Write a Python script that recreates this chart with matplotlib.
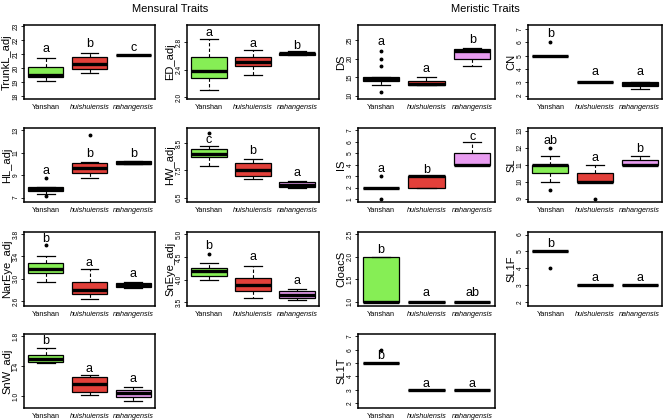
import matplotlib
matplotlib.use('Agg')
import matplotlib.pyplot as plt

plt.rcParams['font.family'] = ['Liberation Sans', 'DejaVu Sans']

groups = ['Yanshan', 'huishuiensis', 'nahangensis']
fills = ['#86EE55', '#E2403A', '#E89CF0']

# each stats row: [whislo, q1, median, q3, whishi]
trunkl_stats = [[19.07, 19.36, 19.5, 20.1, 20.74], [19.67, 19.95, 20.3, 20.8, 21.1], [20.95, 20.95, 20.96, 20.97, 20.97]]
trunkl_fliers = [[], [], []]
trunkl_letters = ['a', 'b', 'c']
trunkl_letter_y = [21.35, 21.75, 21.45]

ed_stats = [[2.10, 2.28, 2.38, 2.58, 2.84], [2.32, 2.46, 2.51, 2.58, 2.68], [2.61, 2.62, 2.64, 2.65, 2.67]]
ed_fliers = [[], [], []]
ed_letters = ['a', 'a', 'b']
ed_letter_y = [2.93, 2.77, 2.75]

ds_stats = [[13, 14, 14.5, 15, 15], [13, 13, 13.2, 14, 15], [18, 20, 22, 22.5, 23]]
ds_fliers = [[18, 20, 22, 11], [], []]
ds_letters = ['a', 'a', 'b']
ds_letter_y = [24.4, 17.2, 25]

cn_stats = [[5, 5, 5, 5, 5], [3, 3, 3, 3, 3], [2.5, 2.75, 2.9, 3.0, 3.0]]
cn_fliers = [[6], [], []]
cn_letters = ['b', 'a', 'a']
cn_letter_y = [6.6, 3.75, 3.75]

hl_stats = [[7.35, 7.6, 7.75, 7.95, 7.95], [8.7, 9.2, 9.65, 10.1, 10.15], [9.95, 9.95, 10.1, 10.25, 10.25]]
hl_fliers = [[8.7, 7.15], [12.6], []]
hl_letters = ['a', 'b', 'b']
hl_letter_y = [9.35, 10.85, 10.85]

hw_stats = [[7.67, 7.98, 8.08, 8.27, 8.38], [7.18, 7.3, 7.52, 7.76, 7.9], [6.85, 6.9, 6.98, 7.06, 7.1]]
hw_fliers = [[8.88], [], []]
hw_letters = ['c', 'b', 'a']
hw_letter_y = [8.6, 8.2, 7.39]

is_stats = [[2, 2, 2, 2, 2], [2, 2, 3, 3, 3], [4, 4, 4, 5, 6]]
is_fliers = [[3, 1], [], []]
is_letters = ['a', 'b', 'c']
is_letter_y = [3.6, 3.55, 6.45]

sl_stats = [[10, 10.5, 11, 11, 11.5], [10, 10, 10, 10.5, 11], [11, 11, 11, 11.25, 11.5]]
sl_fliers = [[12, 9.5], [9], []]
sl_letters = ['ab', 'a', 'b']
sl_letter_y = [12.4, 11.4, 11.9]

nareye_stats = [[2.95, 3.1, 3.18, 3.28, 3.4], [2.63, 2.72, 2.8, 2.95, 3.17], [2.84, 2.85, 2.89, 2.93, 2.95]]
nareye_fliers = [[3.61], [], []]
nareye_letters = ['b', 'a', 'a']
nareye_letter_y = [3.72, 3.29, 3.08]

sneye_stats = [[4.0, 4.07, 4.19, 4.25, 4.37], [3.6, 3.76, 3.89, 4.03, 4.3], [3.55, 3.6, 3.66, 3.74, 3.79]]
sneye_fliers = [[4.57], [], []]
sneye_letters = ['b', 'a', 'a']
sneye_letter_y = [4.75, 4.5, 3.98]

cloacs_stats = [[1, 1, 1, 2, 2], [1, 1, 1, 1, 1], [1, 1, 1, 1, 1]]
cloacs_fliers = [[], [], []]
cloacs_letters = ['b', 'a', 'ab']
cloacs_letter_y = [2.15, 1.2, 1.2]

sl1f_stats = [[5, 5, 5, 5, 5], [3, 3, 3, 3, 3], [3, 3, 3, 3, 3]]
sl1f_fliers = [[4], [], []]
sl1f_letters = ['b', 'a', 'a']
sl1f_letter_y = [5.45, 3.4, 3.4]

snw_stats = [[1.44, 1.46, 1.5, 1.55, 1.64], [1.01, 1.06, 1.16, 1.25, 1.28], [0.93, 0.99, 1.04, 1.08, 1.12]]
snw_fliers = [[], [], []]
snw_letters = ['b', 'a', 'a']
snw_letter_y = [1.73, 1.36, 1.23]

sl1t_stats = [[5, 5, 5, 5, 5], [3, 3, 3, 3, 3], [3, 3, 3, 3, 3]]
sl1t_fliers = [[6], [], []]
sl1t_letters = ['b', 'a', 'a']
sl1t_letter_y = [5.55, 3.45, 3.45]

# (row, col, ylabel, stats, fliers, letters, letter_y, ylim, yticks, ticklabels)
panels = [
    (0, 0, 'TrunkL_adj', trunkl_stats, trunkl_fliers, trunkl_letters, trunkl_letter_y, (17.8, 23.1), [18, 19, 20, 21, 22, 23], None),
    (0, 1, 'ED_adj', ed_stats, ed_fliers, ed_letters, ed_letter_y, (1.975, 3.05), [2.0, 2.4, 2.8], ['2.0', '2.4', '2.8']),
    (0, 2, 'DS', ds_stats, ds_fliers, ds_letters, ds_letter_y, (9.1, 29.1), [10, 15, 20, 25], None),
    (0, 3, 'CN', cn_stats, cn_fliers, cn_letters, cn_letter_y, (1.75, 7.3), [2, 3, 4, 5, 6, 7], None),
    (1, 0, 'HL_adj', hl_stats, hl_fliers, hl_letters, hl_letter_y, (6.6, 13.2), [7, 9, 11, 13], None),
    (1, 1, 'HW_adj', hw_stats, hw_fliers, hw_letters, hw_letter_y, (6.34, 9.05), [6.5, 7.5, 8.5], ['6.5', '7.5', '8.5']),
    (1, 2, 'IS', is_stats, is_fliers, is_letters, is_letter_y, (0.75, 7.2), [1, 2, 3, 4, 5, 6, 7], None),
    (1, 3, 'SL', sl_stats, sl_fliers, sl_letters, sl_letter_y, (8.8, 13.15), [9, 10, 11, 12, 13], None),
    (2, 0, 'NarEye_adj', nareye_stats, nareye_fliers, nareye_letters, nareye_letter_y, (2.51, 3.84), [2.6, 3.0, 3.4, 3.8], ['2.6', '3.0', '3.4', '3.8']),
    (2, 1, 'SnEye_adj', sneye_stats, sneye_fliers, sneye_letters, sneye_letter_y, (3.42, 5.05), [3.5, 4.0, 4.5, 5.0], ['3.5', '4.0', '4.5', '5.0']),
    (2, 2, 'CloacS', cloacs_stats, cloacs_fliers, cloacs_letters, cloacs_letter_y, (0.9, 2.55), [1.0, 1.5, 2.0, 2.5], ['1.0', '1.5', '2.0', '2.5']),
    (2, 3, 'SL1F', sl1f_stats, sl1f_fliers, sl1f_letters, sl1f_letter_y, (1.75, 6.15), [2, 3, 4, 5, 6], None),
    (3, 0, 'SnW_adj', snw_stats, snw_fliers, snw_letters, snw_letter_y, (0.84, 1.83), [1.0, 1.4, 1.8], ['1.0', '1.4', '1.8']),
    (3, 2, 'SL1T', sl1t_stats, sl1t_fliers, sl1t_letters, sl1t_letter_y, (1.65, 7.17), [2, 3, 4, 5, 6, 7], None),
]

W, H = 669, 420
fig = plt.figure(figsize=(W / 100, H / 100), dpi=100)
col_x = [(24, 131), (187, 132), (358, 137), (528, 134)]
row_top = [25, 128, 232, 334]
ph = 74

for (r, c, ylab, stats, fliers, letters, ly, ylim, yticks, tlabels) in panels:
    x0, w = col_x[c]
    ax = fig.add_axes([x0 / W, 1 - (row_top[r] + ph) / H, w / W, ph / H])
    bstats = []
    for s, f in zip(stats, fliers):
        bstats.append(dict(whislo=s[0], q1=s[1], med=s[2], q3=s[3], whishi=s[4], fliers=f))
    bp = ax.bxp(bstats, positions=[1, 2, 3], widths=0.8, patch_artist=True,
                showfliers=True,
                boxprops=dict(linewidth=0.9, edgecolor='black'),
                medianprops=dict(color='black', linewidth=2.4, solid_capstyle='butt'),
                whiskerprops=dict(color='black', linewidth=0.8, linestyle=(0, (3, 2))),
                capprops=dict(color='black', linewidth=0.9),
                capwidths=0.4,
                flierprops=dict(marker='o', markersize=1.8, markerfacecolor='black',
                                markeredgecolor='black', linestyle='none'))
    for patch, col in zip(bp['boxes'], fills):
        patch.set_facecolor(col)
    for i, (t, yy) in enumerate(zip(letters, ly)):
        ax.text(i + 1, yy, t, ha='center', va='center', fontsize=9)
    ax.set_xlim(0.5, 3.5)
    ax.set_ylim(*ylim)
    ax.set_yticks(yticks)
    if tlabels is not None:
        ax.set_yticklabels(tlabels)
    for lbl in ax.get_yticklabels():
        lbl.set_rotation(90)
        lbl.set_va('center')
    ax.tick_params(axis='y', labelsize=4.8, length=2, width=0.6, pad=1)
    ax.set_xticks([1, 2, 3])
    ax.set_xticklabels(groups)
    ax.tick_params(axis='x', labelsize=5.2, length=0, pad=3.5)
    xl = ax.get_xticklabels()
    xl[1].set_style('italic')
    xl[2].set_style('italic')
    ax.set_ylabel(ylab, fontsize=8, labelpad=0.5)
    for sp in ax.spines.values():
        sp.set_linewidth(1.1)

fig.text(170 / W, 1 - 9 / H, 'Mensural Traits', ha='center', va='center', fontsize=8)
fig.text(485 / W, 1 - 9 / H, 'Meristic Traits', ha='center', va='center', fontsize=8)

fig.savefig('out.png', dpi=100)
